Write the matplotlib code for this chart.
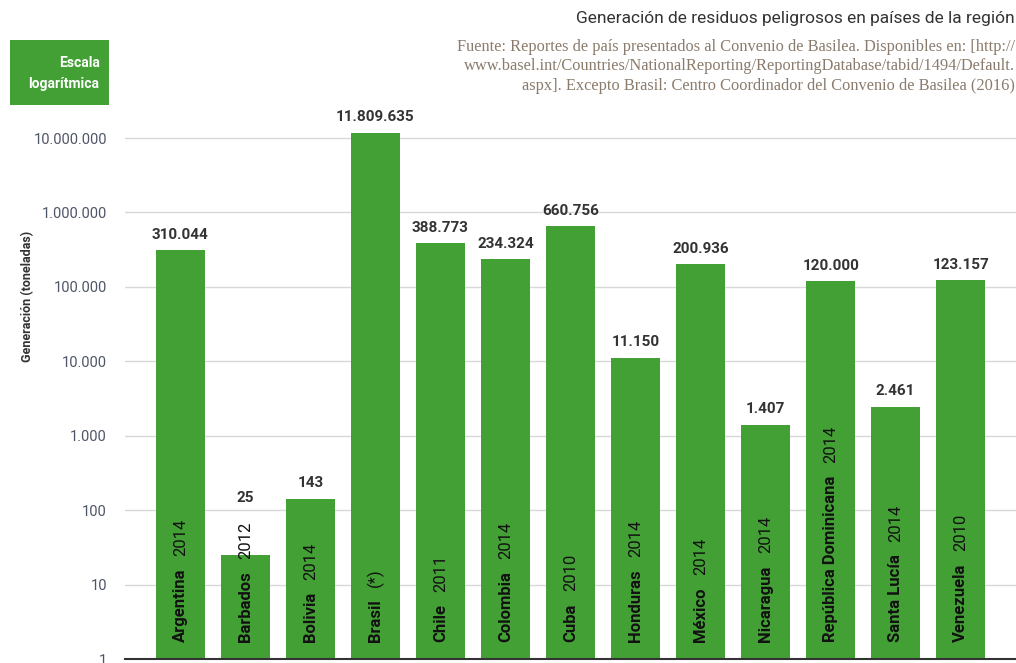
import matplotlib
matplotlib.use('Agg')
import matplotlib.pyplot as plt
import matplotlib.patches as mpatches
from matplotlib.ticker import FixedLocator, NullLocator
import numpy as np

# ============================================================
# DATOS
# ============================================================

paises = ['Argentina', 'Barbados', 'Bolivia', 'Brasil', 'Chile', 'Colombia', 'Cuba',
          'Honduras', 'México', 'Nicaragua', 'República Dominicana', 'Santa Lucía', 'Venezuela']
anios = ['2014', '2012', '2014', '(*)', '2011', '2014', '2010',
         '2014', '2014', '2014', '2014', '2014', '2010']
toneladas = [310044, 25, 143, 11809635, 388773, 234324, 660756,
             11150, 200936, 1407, 120000, 2461, 123157]
etiquetas = ['310.044', '25', '143', '11.809.635', '388.773', '234.324', '660.756',
             '11.150', '200.936', '1.407', '120.000', '2.461', '123.157']

ticks_y = [1, 10, 100, 1000, 10000, 100000, 1000000, 10000000]
ticks_lbl = ['1', '10', '100', '1.000', '10.000', '100.000', '1.000.000', '10.000.000']

VERDE = '#43a035'
COND = ['Roboto', 'DejaVu Sans']

# ============================================================
# FIGURA
# ============================================================

fig = plt.figure(figsize=(10.16, 6.63), dpi=100)
ax = fig.add_axes([0.123, 0.006, 0.877, 0.843])

x = np.arange(len(paises))
ax.bar(x, toneladas, width=0.75, color=VERDE, zorder=2, bottom=0)
ax.set_yscale('log')
ax.set_ylim(1, 10 ** 7.51)
ax.set_xlim(-0.85, 12.85)

ax.yaxis.set_major_locator(FixedLocator(ticks_y))
ax.yaxis.set_minor_locator(NullLocator())
ax.set_yticklabels(ticks_lbl, family=COND, fontsize=10.5, color='#4f5568')
ax.tick_params(axis='y', length=0, pad=13)
ax.set_xticks([])
ax.grid(axis='y', color='#d8d8d8', linewidth=1, zorder=0)
for s in ['top', 'right', 'left']:
    ax.spines[s].set_visible(False)
ax.spines['bottom'].set_color('#333333')
ax.spines['bottom'].set_linewidth(1.5)
ax.spines['bottom'].set_zorder(3)

fig.text(0.027, 0.553, 'Generación (toneladas)', rotation=90, ha='center', va='center',
         family=COND, fontsize=9, fontweight='bold', color='#333333')

# textos dentro de las barras
nombres = []
for i, p in enumerate(paises):
    t = ax.text(x[i], 1.7, p, rotation=90, ha='center', va='bottom',
                family=COND, fontsize=12, fontweight='bold', color='#111111', zorder=4)
    nombres.append(t)

fig.canvas.draw()
r = fig.canvas.get_renderer()
inv = ax.transData.inverted()
anio_txt = []
for i, t in enumerate(nombres):
    bb = t.get_window_extent(r)
    ytop = inv.transform((bb.x0, bb.y1 + 12))[1]
    a = ax.text(x[i], ytop, anios[i], rotation=90, ha='center', va='bottom',
                family=COND, fontsize=12, color='#111111', zorder=4)
    anio_txt.append(a)

fig.canvas.draw()
for i, a in enumerate(anio_txt):
    bb = a.get_window_extent(r)
    ytxt = inv.transform((bb.x0, bb.y1))[1]
    if ytxt > toneladas[i]:
        base, off = ytxt, 12
    else:
        base, off = toneladas[i], 6
    ax.annotate(etiquetas[i], (x[i], base), xytext=(0, off), textcoords='offset points',
                ha='center', va='bottom', family=COND, fontsize=11, fontweight='bold',
                color='#333333', zorder=4)

# recuadro escala logaritmica
fig.patches.append(mpatches.Rectangle((0.010, 0.842), 0.097, 0.098, transform=fig.transFigure,
                                      facecolor=VERDE, edgecolor='none'))
fig.text(0.098, 0.889, 'Escala\nlogarítmica', ha='right', va='center', family=COND,
         fontsize=10, fontweight='bold', color='white', linespacing=1.65)

# titulo y fuente
fig.text(0.999, 0.972, 'Generación de residuos peligrosos en países de la región', ha='right',
         va='center', family=COND, fontsize=12.5, color='#333333')
fig.text(0.999, 0.900,
         'Fuente: Reportes de país presentados al Convenio de Basilea. Disponibles en: [http://\n'
         'www.basel.int/Countries/NationalReporting/ReportingDatabase/tabid/1494/Default.\n'
         'aspx]. Excepto Brasil: Centro Coordinador del Convenio de Basilea (2016)',
         ha='right', va='center', family=['Liberation Serif', 'DejaVu Serif'], fontsize=11.8,
         color='#8a7b6c', linespacing=1.3)

fig.savefig('out.png', dpi=100)
